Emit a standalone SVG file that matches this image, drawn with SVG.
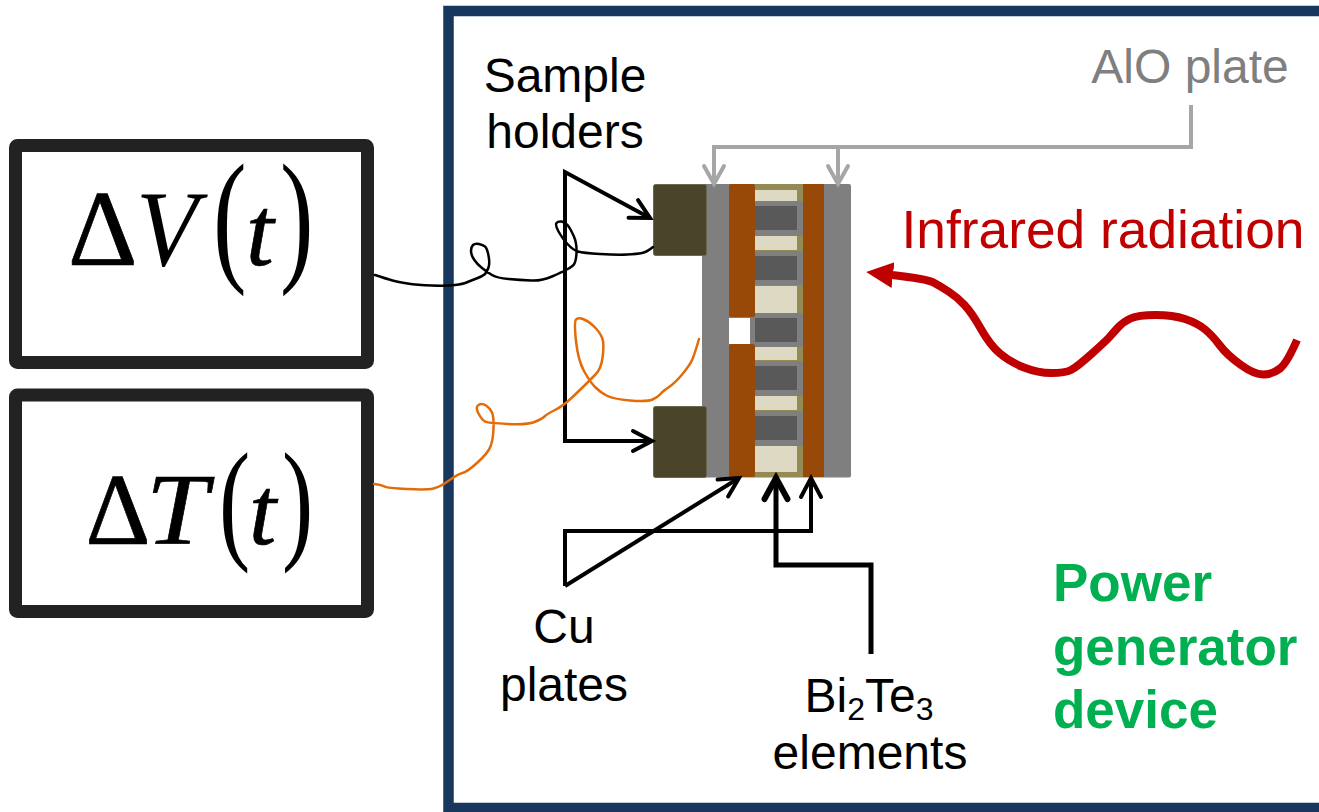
<svg xmlns="http://www.w3.org/2000/svg" width="1319" height="812" viewBox="0 0 1319 812">
<style>
.lbl{font-family:"Liberation Sans",Arial,sans-serif;font-size:48px;fill:#000}
.big{font-size:53.300px}
.bold{font-family:"Liberation Sans",Arial,sans-serif;font-size:53px;font-weight:bold;fill:#00b050}
.math{font-family:"Liberation Serif","Times New Roman",serif;fill:#000}
.heavy{stroke:#000;stroke-width:.7px}
.box{fill:#fff;stroke:#222;stroke-width:13;stroke-linejoin:round}
.ln{fill:none;stroke-linejoin:miter}
.blk{stroke:#000;stroke-width:4}
.gry{stroke:#a6a6a6;stroke-width:4}
.wire{fill:none;stroke-linejoin:round;stroke-linecap:round}
.dark{fill:#595959}.bar{fill:#7f7f7f}.cream{fill:#ddd9c3}.cu{fill:#984807}.hold{fill:#4a452a;stroke:#6b6750;stroke-width:1}
</style>
<defs>
<marker id="oa" markerUnits="userSpaceOnUse" markerWidth="30" markerHeight="30" refX="24" refY="15" orient="auto"><path d="M5 5 L24 15 L5 25" fill="none" stroke="#000" stroke-width="4" stroke-linecap="round"/></marker>
<marker id="ta" markerUnits="userSpaceOnUse" markerWidth="36" markerHeight="36" refX="28" refY="18" orient="auto"><path d="M7 6.500 L28 18 L7 29.500" fill="none" stroke="#000" stroke-width="6" stroke-linecap="round"/></marker>
<marker id="ga" markerUnits="userSpaceOnUse" markerWidth="30" markerHeight="30" refX="24" refY="15" orient="auto"><path d="M6 5 L24 15 L6 25" fill="none" stroke="#a6a6a6" stroke-width="4" stroke-linecap="round"/></marker>
<marker id="ra" markerUnits="userSpaceOnUse" markerWidth="30" markerHeight="30" refX="1" refY="15" orient="auto"><path d="M0 2 L27 15 L0 28 Z" fill="#c00000"/></marker>
</defs>
<g id="frame"><path d="M1319 11 H448.500 V808 H1319" fill="none" stroke="#17375e" stroke-width="10.500"/></g>
<g id="delta-v"><rect class="box" x="15.500" y="145.500" width="352" height="217" rx="2"/>
<text class="math heavy" x="68" y="265" font-size="108">Δ</text>
<text class="math" transform="translate(136,265) scale(.94,1)" font-size="108" font-style="italic">V</text>
<text class="math" transform="translate(213,265) scale(.69,1)" font-size="146">(</text>
<text class="math heavy" x="246" y="265" font-size="100" font-style="italic">t</text>
<text class="math" transform="translate(280,265) scale(.69,1)" font-size="146">)</text></g>
<g id="delta-t"><rect class="box" x="15.500" y="395" width="352" height="216.500" rx="2"/>
<text class="math heavy" x="85.500" y="544" font-size="101">Δ</text>
<text class="math heavy" transform="translate(146,544) scale(1.1,1)" font-size="101" font-style="italic">T</text>
<text class="math" transform="translate(219,545) scale(.7,1)" font-size="134">(</text>
<text class="math heavy" x="249" y="544" font-size="98" font-style="italic">t</text>
<text class="math" transform="translate(282,545) scale(.7,1)" font-size="134">)</text></g>
<g id="device">
<rect x="702" y="184" width="149" height="293.500" rx="2" fill="#7f7f7f"/>
<rect x="729" y="318" width="21" height="26" fill="#fff"/>
<rect x="755" y="184" width="48" height="293" fill="#948a54"/>
<rect class="cream" x="755" y="190" width="42" height="11"/>
<rect class="cream" x="755" y="236" width="42" height="14"/>
<rect class="cream" x="755" y="286" width="42" height="27"/>
<rect class="cream" x="755" y="347" width="42" height="13"/>
<rect class="cream" x="755" y="396" width="42" height="14"/>
<rect class="cream" x="755" y="446" width="42" height="26"/>
<rect class="bar" x="755" y="201" width="48" height="35" rx="2"/><rect class="dark" x="755" y="206" width="42" height="24"/>
<rect class="bar" x="755" y="251" width="48" height="34" rx="2"/><rect class="dark" x="755" y="256" width="42" height="24"/>
<rect class="bar" x="750" y="313" width="53" height="34" rx="2"/><rect class="dark" x="755" y="318" width="42" height="24"/>
<rect class="bar" x="755" y="361" width="48" height="35" rx="2"/><rect class="dark" x="755" y="366" width="42" height="24"/>
<rect class="bar" x="755" y="411" width="48" height="35" rx="2"/><rect class="dark" x="755" y="416" width="42" height="24"/>
<rect class="cu" x="729" y="184" width="26" height="133" rx="2"/>
<rect class="cu" x="729" y="344" width="26" height="133" rx="2"/>
<rect class="cu" x="803" y="184" width="21" height="293"/>
</g>
<g id="holder-top"><rect class="hold" x="653.500" y="184.500" width="53" height="71" rx="2"/></g>
<g id="holder-bottom"><rect class="hold" x="653.500" y="406.500" width="53" height="71" rx="2"/></g>
<g id="connectors">
<path class="ln blk" d="M565 441 V172 L650 218" marker-end="url(#oa)"/>
<path class="ln blk" d="M565 172 V441 H652" marker-end="url(#oa)"/>
<path class="ln blk" d="M565 586 L739 478" marker-end="url(#oa)"/>
<path class="ln blk" d="M565 586 V531 H811 V478" marker-end="url(#oa)"/>
<path class="ln" stroke="#000" stroke-width="5" d="M871 654 V565 H776 V478" marker-end="url(#ta)"/>
<path class="ln gry" d="M1191 105 V147 H714 V184" marker-end="url(#ga)"/>
<path class="ln gry" d="M838 147 V184" marker-end="url(#ga)"/>
<path class="wire" stroke="#000" stroke-width="2.500" d="M375 275 Q387 279 392.500 280.500 Q398 282 407.500 283.500 Q417 285 432 285.500 Q447 286 455 285 Q463 284 466.500 282.500 Q470 281 476.500 278.500 Q483 276 485 274 Q487 272 488.500 267.500 Q490 263 488.500 255.500 Q487 248 485 246.500 Q483 245 479 244 Q475 243 473 245 Q471 247 471 251 Q471 255 474 259.500 Q477 264 482 268 Q487 272 492 275 Q497 278 508.500 279 Q520 280 531 280.500 Q542 281 552 276.500 Q562 272 566 270 Q570 268 573 265.500 Q576 263 576.500 253 Q577 243 573.500 235.500 Q570 228 567.500 225 Q565 222 561.500 221.500 Q558 221 556.500 223 Q555 225 558.500 231.500 Q562 238 567.500 244 Q573 250 578 251.500 Q583 253 600 254 Q617 255 627 254.500 Q637 254 642 253 Q647 252 653 247"/>
<path class="wire" stroke="#e36c09" stroke-width="2.500" d="M374 484 Q382 485 384.500 486.500 Q387 488 407 489 Q427 490 433.500 488.500 Q440 487 449 480.500 Q458 474 462.500 473 Q467 472 477.500 462.500 Q488 453 490.500 446.500 Q493 440 493.500 428.500 Q494 417 492 412.500 Q490 408 486 405.500 Q482 403 478.500 405 Q475 407 478.500 413.500 Q482 420 485 421.500 Q488 423 507.500 424 Q527 425 534.500 422 Q542 419 544.500 416.500 Q547 414 555 410 Q563 406 571.500 398 Q580 390 585 385 Q590 380 595.500 374.500 Q601 369 602.500 358 Q604 347 603 341 Q602 335 596 328.500 Q590 322 584 319.500 Q578 317 576 319.500 Q574 322 576 341 Q578 360 584 371 Q590 382 595 387 Q600 392 606.500 395.500 Q613 399 630 400.500 Q647 402 652.500 399.500 Q658 397 660.500 394 Q663 391 669 387 Q675 383 682.500 374 Q690 365 692.500 359 Q695 353 699 339"/>
<path class="wire" style="stroke-linecap:butt" stroke="#c00000" stroke-width="8" d="M1297 340 Q1287 363 1280 368.500 Q1273 374 1264 374.500 Q1255 375 1241 365 Q1227 355 1219.500 345 Q1212 335 1204.500 329 Q1197 323 1185 319 Q1173 315 1155.500 315 Q1138 315 1130.500 318.500 Q1123 322 1118 327.500 Q1113 333 1110 336.500 Q1107 340 1092 353.500 Q1077 367 1071 370 Q1065 373 1051.500 373 Q1038 373 1024 367.500 Q1010 362 1000 353.500 Q990 345 981 329 Q972 313 964.500 305 Q957 297 948.500 291.500 Q940 286 933.500 282.500 Q927 279 892 275" marker-end="url(#ra)"/>
</g>
<g id="labels">
<text class="lbl" x="565" y="92" text-anchor="middle">Sample</text>
<text class="lbl" x="565" y="148" text-anchor="middle">holders</text>
<text class="lbl" x="1190" y="83" text-anchor="middle" style="fill:#7f7f7f">AlO plate</text>
<text class="lbl big" x="1103" y="248" text-anchor="middle" style="fill:#c00000">Infrared radiation</text>
<text class="lbl" x="564" y="643" text-anchor="middle">Cu</text>
<text class="lbl" x="564" y="701" text-anchor="middle">plates</text>
<text class="lbl" x="869" y="712" text-anchor="middle">Bi<tspan font-size="32" dy="8">2</tspan><tspan dy="-8">Te</tspan><tspan font-size="32" dy="8">3</tspan></text>
<text class="lbl" x="870" y="769" text-anchor="middle">elements</text>
<text class="bold" x="1053" y="601">Power</text>
<text class="bold" x="1053" y="665">generator</text>
<text class="bold" x="1053" y="728">device</text>
</g>
</svg>
